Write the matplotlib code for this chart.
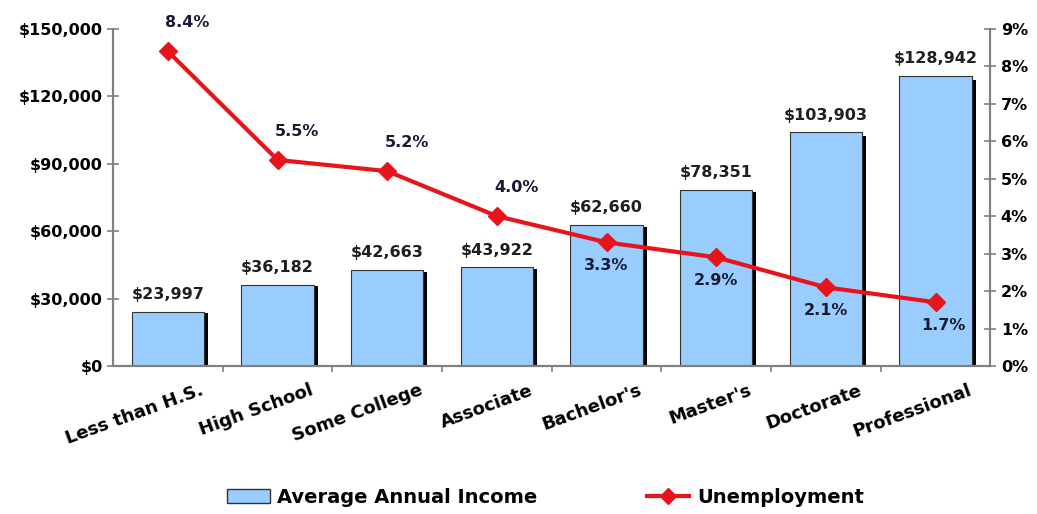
import matplotlib.pyplot as plt
import matplotlib.transforms as mtransforms
from matplotlib.lines import Line2D
from matplotlib.patches import Patch
import numpy as np

# Education level vs. income and unemployment
categories = ['Less than H.S.', 'High School', 'Some College', 'Associate',
              "Bachelor's", "Master's", 'Doctorate', 'Professional']
income = [23997, 36182, 42663, 43922, 62660, 78351, 103903, 128942]
unemployment = [8.4, 5.5, 5.2, 4.0, 3.3, 2.9, 2.1, 1.7]
income_ticks = [0, 30000, 60000, 90000, 120000, 150000]
pct_ticks = list(range(0, 10))
# where each percent label goes: above or below its marker
pct_label_pos = ['above', 'above', 'above', 'above', 'below', 'below', 'below', 'below']

plt.rcParams['font.family'] = ['DejaVu Sans']
plt.rcParams['font.weight'] = 'bold'

fig = plt.figure(figsize=(10.37, 5.14), dpi=100)
ax = fig.add_axes([0.109, 0.288, 0.846, 0.656])
ax2 = ax.twinx()

x = np.arange(len(categories))
bar_w = 0.66

# shadow behind each bar, then the bar itself
ax.bar(x + 0.035, np.array(income) * 0.985, width=bar_w, color='black', zorder=1)
bars = ax.bar(x, income, width=bar_w, color='#99CCFF', edgecolor='#333333',
              linewidth=0.8, zorder=2)

for xi, v in zip(x, income):
    ax.annotate(f'${v:,}', (xi, v), xytext=(0, 7), textcoords='offset points',
                ha='center', va='bottom', fontsize=11.5, fontweight='bold',
                color='#1f1f1f')

ax.set_xlim(-0.5, len(categories) - 0.5)
ax.set_ylim(0, 150000)
ax.set_yticks(income_ticks)
ax.set_yticklabels([f'${t:,}' for t in income_ticks], fontsize=11.5, fontweight='bold')

ax2.plot(x, unemployment, color='#E8141B', linewidth=3, marker='D',
         markersize=9, zorder=5)
ax2.set_ylim(0, 9)
ax2.set_yticks(pct_ticks)
ax2.set_yticklabels([f'{t}%' for t in pct_ticks], fontsize=11.5, fontweight='bold')

for xi, v, pos in zip(x, unemployment, pct_label_pos):
    if pos == 'above':
        ax2.annotate(f'{v}%', (xi, v), xytext=(14, 15), textcoords='offset points',
                     ha='center', va='bottom', fontsize=11.5, fontweight='bold',
                     color='#1a1a33')
    else:
        dx = 6 if xi == len(categories) - 1 else 0
        ax2.annotate(f'{v}%', (xi, v), xytext=(dx, -11), textcoords='offset points',
                     ha='center', va='top', fontsize=11.5, fontweight='bold',
                     color='#1a1a33')

# x axis: category names, boundary tick marks
ax.set_xticks(x)
ax.set_xticklabels(categories, rotation=20, ha='right', rotation_mode='anchor',
                   fontsize=13, fontweight='bold')
ax.tick_params(axis='x', length=0, pad=11)
offset = mtransforms.ScaledTranslation(32 / 100, 0, fig.dpi_scale_trans)
for lbl in ax.get_xticklabels():
    lbl.set_transform(lbl.get_transform() + offset)
ax.set_xticks(np.arange(0.5, len(categories) - 0.5), minor=True)
ax.tick_params(axis='x', which='minor', length=4, color='#808080', width=1.2)

ax.tick_params(axis='y', direction='inout', length=8, color='#808080', width=1.2)
ax2.tick_params(axis='y', direction='inout', length=8, color='#808080', width=1.2)

for a in (ax, ax2):
    a.spines['top'].set_visible(False)
    for s in ('left', 'right', 'bottom'):
        a.spines[s].set_color('#808080')
        a.spines[s].set_linewidth(1.5)

ax.set_zorder(ax2.get_zorder() - 1)
ax2.patch.set_visible(False)

handles = [Patch(facecolor='#99CCFF', edgecolor='#333333', label='Average Annual Income'),
           Line2D([0], [0], color='#E8141B', linewidth=3, marker='D', markersize=8,
                  label='Unemployment')]
fig.legend(handles=handles, loc='center', bbox_to_anchor=(0.526, 0.033), ncol=2,
           frameon=False, columnspacing=5.6, handlelength=2.2,
           handletextpad=0.4, prop={'weight': 'bold', 'size': 14})

fig.savefig('out.png', dpi=100)
